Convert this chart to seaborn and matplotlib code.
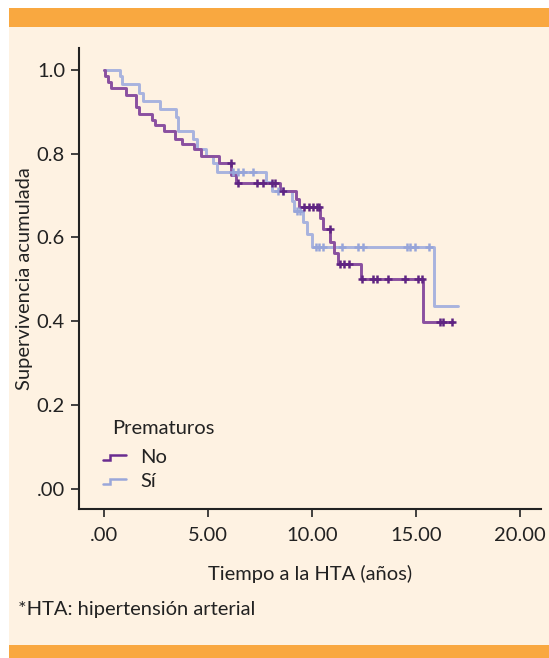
import numpy as np
import pandas as pd
import matplotlib
matplotlib.use("Agg")
import matplotlib.pyplot as plt
import seaborn as sns
from matplotlib.lines import Line2D
from matplotlib.legend_handler import HandlerLine2D
from matplotlib.patches import Rectangle

# ---------------- data ----------------
groups = ["No", "Sí"]
no_times = [0, 0.03, 0.2, 0.33, 1.04, 1.52, 1.70, 2.29, 2.45, 2.88, 3.41, 3.76, 4.34, 4.66,
            5.54, 6.12, 6.35, 8.46, 9.23, 9.39, 10.36, 10.54, 10.87, 11.07, 11.24, 12.36,
            15.32, 16.79]
no_surv = [1.0, 0.984, 0.971, 0.956, 0.940, 0.912, 0.895, 0.881, 0.869, 0.854, 0.836, 0.823,
           0.810, 0.795, 0.777, 0.749, 0.730, 0.710, 0.691, 0.672, 0.646, 0.620, 0.590, 0.563,
           0.537, 0.500, 0.399, 0.399]
no_censor = [6.09, 6.46, 7.34, 7.66, 8.06, 8.22, 8.59, 9.63, 9.86, 10.06, 10.25, 10.34, 10.86,
             11.35, 11.54, 11.75, 12.39, 12.92, 13.11, 13.67, 14.47, 15.11, 15.27, 16.15,
             16.31, 16.72]

si_times = [0, 0.77, 0.86, 1.70, 1.89, 2.69, 3.46, 3.54, 4.27, 4.46, 4.92, 5.24, 5.45, 7.77,
            8.06, 9.02, 9.13, 9.58, 9.75, 9.99, 15.88, 17.0]
si_surv = [1.0, 0.984, 0.965, 0.944, 0.925, 0.906, 0.888, 0.854, 0.836, 0.810, 0.795, 0.777,
           0.755, 0.733, 0.710, 0.686, 0.664, 0.636, 0.608, 0.578, 0.437, 0.437]
si_censor = [6.22, 6.46, 6.67, 7.18, 8.38, 8.62, 9.26, 9.42, 10.18, 10.34, 10.54, 11.43, 12.23,
             12.47, 14.55, 14.71, 14.95, 15.64]

x_ticks = [0, 5, 10, 15, 20]
x_ticklabels = [".00", "5.00", "10.00", "15.00", "20.00"]
y_ticks = [0, 0.2, 0.4, 0.6, 0.8, 1.0]
y_ticklabels = [".00", "0.2", "0.4", "0.6", "0.8", "1.0"]

# ---------------- frames ----------------
def surv_at(times, surv, t):
    idx = np.searchsorted(np.asarray(times), t, side="right") - 1
    return np.asarray(surv)[idx]

steps = pd.concat([
    pd.DataFrame({"t": no_times, "s": no_surv, "g": "No"}),
    pd.DataFrame({"t": si_times, "s": si_surv, "g": "Sí"}),
])
cens = pd.concat([
    pd.DataFrame({"t": no_censor, "s": surv_at(no_times, no_surv, no_censor), "g": "No"}),
    pd.DataFrame({"t": si_censor, "s": surv_at(si_times, si_surv, si_censor), "g": "Sí"}),
])

line_col = {"No": "#8a50a0", "Sí": "#a8b3de"}
mark_col = {"No": "#5f2482", "Sí": "#97a5d9"}
leg_col = {"No": "#6a2c90", "Sí": "#9aa7da"}
TXT = "#222222"
FS = 14.5

sns.set_theme(style="ticks")
plt.rcParams["font.family"] = ["Lato", "DejaVu Sans"]

fig = plt.figure(figsize=(5.49, 6.58), dpi=100)
fig.patch.set_facecolor("white")
H = 658.0
W = 549.0
fig.patches.append(Rectangle((9 / W, 1 - 645 / H), 1 - 9 / W, (645 - 27) / H,
                             transform=fig.transFigure, facecolor="#fef2e2", edgecolor="none", zorder=-10))
fig.patches.append(Rectangle((9 / W, 1 - 27 / H), 1 - 9 / W, 19 / H,
                             transform=fig.transFigure, facecolor="#f9a840", edgecolor="none", zorder=-10))
fig.patches.append(Rectangle((9 / W, 0), 1 - 9 / W, 1 - 645 / H,
                             transform=fig.transFigure, facecolor="#f9a840", edgecolor="none", zorder=-10))

ax = fig.add_axes([79 / W, 1 - 509 / H, (541 - 79) / W, (509 - 48) / H])
ax.set_facecolor("none")

for g in ["Sí", "No"]:
    d = steps[steps.g == g]
    sns.lineplot(data=d, x="t", y="s", ax=ax, drawstyle="steps-post", estimator=None,
                 sort=False, color=line_col[g], linewidth=2.1, legend=False)
    c = cens[cens.g == g]
    sns.scatterplot(data=c, x="t", y="s", ax=ax, marker="+", color=mark_col[g], s=40,
                    linewidth=1.8, legend=False, zorder=5)

ax.set_xlim(-1.2, 21.0)
ax.set_ylim(-0.048, 1.052)
ax.set_xticks(x_ticks)
ax.set_xticklabels(x_ticklabels)
ax.set_yticks(y_ticks)
ax.set_yticklabels(y_ticklabels)
ax.tick_params(axis="both", labelsize=FS, length=6, width=1.2, color=TXT,
               labelcolor=TXT, pad=4)
ax.tick_params(axis="x", pad=7)
for sp in ["top", "right"]:
    ax.spines[sp].set_visible(False)
for sp in ["left", "bottom"]:
    ax.spines[sp].set_linewidth(1.5)
    ax.spines[sp].set_color(TXT)
ax.set_xlabel("Tiempo a la HTA (años)", fontsize=FS, color=TXT, labelpad=15)
ax.set_ylabel("Supervivencia acumulada", fontsize=FS, color=TXT, labelpad=3)


class StepHandler(HandlerLine2D):
    def create_artists(self, legend, orig_handle, xdescent, ydescent, width, height, fontsize, trans):
        x0 = -xdescent
        y0 = -ydescent
        xs = [x0, x0 + width * 0.32, x0 + width * 0.32, x0 + width]
        ys = [y0 + height * 0.2, y0 + height * 0.2, y0 + height * 0.6, y0 + height * 0.6]
        ln = Line2D(xs, ys, color=orig_handle.get_color(), linewidth=1.8,
                    solid_joinstyle="miter")
        ln.set_transform(trans)
        return [ln]


fig.text(112 / W, 1 - 428 / H, "Prematuros", fontsize=FS, color=TXT, ha="left", va="center")
handles = [Line2D([], [], color=leg_col[g]) for g in groups]
leg = ax.legend(handles, groups, loc="upper left",
                bbox_to_anchor=(101 / W, 1 - 447 / H), bbox_transform=fig.transFigure,
                frameon=False, fontsize=FS,
                handler_map={Line2D: StepHandler()}, handlelength=1.15, handletextpad=0.7,
                labelspacing=0.35, borderpad=0.1, borderaxespad=0)
for t in leg.get_texts():
    t.set_color(TXT)

fig.text(18 / W, 1 - 610 / H, "*HTA: hipertensión arterial", fontsize=FS,
         color=TXT, va="center", ha="left")

fig.savefig("out.png", dpi=100, facecolor=fig.get_facecolor())
